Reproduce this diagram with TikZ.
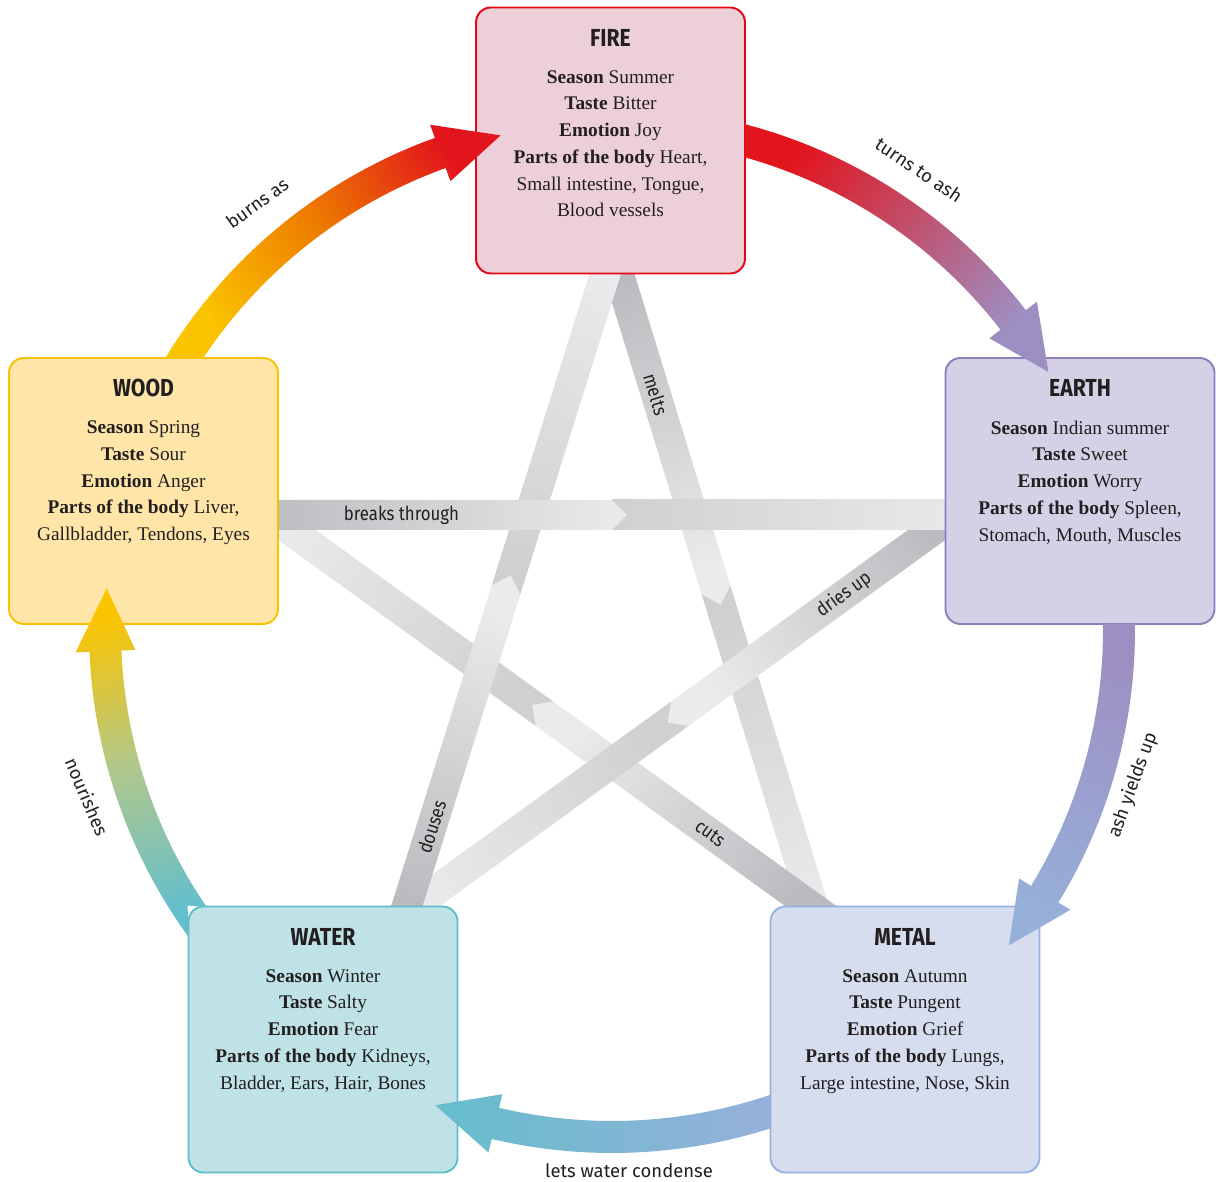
\documentclass[tikz,border=0pt]{standalone}
\usepackage{fontspec}
\setmainfont{Liberation Serif}
\newfontfamily\headfont[FakeStretch=0.86]{Fira Sans}
\newfontfamily\labfont{Fira Sans}
\newfontfamily\condfont[FakeStretch=0.87]{Fira Sans}
\usepackage{xcolor}
\usepackage{tikz}
\usetikzlibrary{positioning,calc,backgrounds}

\definecolor{ink}{RGB}{35,31,32}
\definecolor{firefill}{RGB}{236,207,217}
\definecolor{fireline}{RGB}{227,6,19}
\definecolor{woodfill}{RGB}{255,230,168}
\definecolor{woodline}{RGB}{251,192,0}
\definecolor{earthfill}{RGB}{212,208,230}
\definecolor{earthline}{RGB}{139,127,189}
\definecolor{waterfill}{RGB}{190,226,230}
\definecolor{waterline}{RGB}{94,190,202}
\definecolor{metalfill}{RGB}{213,221,239}
\definecolor{metalline}{RGB}{150,178,222}
\definecolor{woodarr}{RGB}{251,196,0}
\definecolor{orangearr}{RGB}{237,122,0}
\definecolor{firearr}{RGB}{226,20,28}
\definecolor{eartharr}{RGB}{158,143,194}
\definecolor{metalarr}{RGB}{150,176,218}
\definecolor{waterarr}{RGB}{101,190,204}
\definecolor{greenarr}{RGB}{176,200,140}
\definecolor{banddark}{RGB}{186,187,190}
\definecolor{bandlight}{RGB}{234,235,236}
\definecolor{bandmid}{RGB}{207,208,210}
\definecolor{bandend}{RGB}{233,234,235}

% grey band from #1 to #2, chevron half way, #3 = shading angle
\newcommand{\gband}[3]{%
  \coordinate (s) at ($(#1)!-0.04!(#2)$);
  \coordinate (e) at ($(#1)!1.04!(#2)$);
  \coordinate (f) at ($(#1)!2!(#2)$);
  \coordinate (b) at ($(#1)!0.5!(#2)$);
  \coordinate (t) at ($(#1)!0.523!(#2)$);
  \shade[bottom color=bandmid, top color=bandend, shading angle=#3]
    ($(b)!3mm!90:(f)$) -- ($(e)!3mm!90:(f)$) -- ($(e)!3mm!-90:(f)$) -- ($(b)!3mm!-90:(f)$) -- cycle;
  \shade[bottom color=banddark, top color=bandlight, shading angle=#3]
    ($(s)!3mm!90:(f)$) -- ($(b)!3mm!90:(f)$) -- (t) -- ($(b)!3mm!-90:(f)$) -- ($(s)!3mm!-90:(f)$) -- cycle;
}

\begin{document}
\begin{tikzpicture}[
  x=0.2mm, y=0.2mm,
  elem/.style={draw, rounded corners=3mm, line width=1.1pt, minimum width=53.8mm, minimum height=53.2mm, inner sep=0pt},
  elemtitle/.style={font=\headfont\bfseries\fontsize{14}{16}\selectfont, text=ink, anchor=base, inner sep=0pt},
  elembody/.style={font=\fontsize{11}{15.2}\selectfont, text=ink, align=center, anchor=north, inner sep=0pt},
  arclab/.style={font=\labfont\fontsize{10.5}{12}\selectfont, text=ink},
  bandlab/.style={font=\condfont\fontsize{11}{13}\selectfont, text=ink}]
\useasboundingbox (0,0) rectangle (1216,1181);

% the five elements
\node[elem, fill=firefill, draw=fireline] (fire) at (610.5,1040.5) {};
\node[elem, fill=woodfill, draw=woodline] (wood) at (143.5,690) {};
\node[elem, fill=earthfill, draw=earthline] (earth) at (1080,690) {};
\node[elem, fill=waterfill, draw=waterline] (water) at (323,141.5) {};
\node[elem, fill=metalfill, draw=metalline] (metal) at (905,141.5) {};

% ends of the star bands
\coordinate (wdA) at ([yshift=-4.8mm]wood.east);
\coordinate (wdB) at ([yshift=-6.2mm]wood.east);
\coordinate (eaA) at ([yshift=-4.8mm]earth.west);
\coordinate (eaB) at ([yshift=-6.2mm]earth.west);
\coordinate (frA) at ([xshift=-1.1mm]fire.south);
\coordinate (frB) at ([xshift=1.7mm]fire.south);
\coordinate (mtA) at ([xshift=-18.4mm]metal.north);
\coordinate (mtB) at ([xshift=-19mm]metal.north);
\coordinate (wtA) at ([xshift=16.8mm]water.north);
\coordinate (wtB) at ([xshift=18.4mm]water.north);

\begin{pgfonlayer}{background}
\gband{frB}{mtA}{-163}
\gband{mtB}{wdB}{54.1}
\gband{eaB}{wtB}{125.9}
\gband{wtA}{frA}{-17.3}
\gband{wdA}{eaA}{-90}
\end{pgfonlayer}

\path (wdA) -- (eaA) node[bandlab, pos=0.184, sloped] (lbreak) {breaks through};
\path (frB) -- (mtA) node[bandlab, pos=0.19, sloped] (lmelt) {melts};
\path (wtA) -- (frA) node[bandlab, pos=0.125, sloped] (ldouse) {douses};
\path (mtB) -- (wdB) node[bandlab, pos=0.188, sloped] (lcut) {cuts};
\path (eaB) -- (wtB) node[bandlab, pos=0.19, sloped] (ldry) {dries up};

% the ring of arrows
\coordinate (hub) at (612,551);
\shade[bottom color=woodarr, top color=firearr, middle color=orangearr, shading angle=-55]
  ($(hub)+(148.66:523)$) arc[start angle=148.66, end angle=109.8, radius=523]
  -- ($(hub)+(109.8:537)$) -- ($(hub)+(102.7:507)$) -- ($(hub)+(109.8:477)$)
  -- ($(hub)+(109.8:491)$) arc[start angle=109.8, end angle=146.36, radius=491] -- cycle;
\shade[bottom color=firearr, top color=eartharr, shading angle=-127.8]
  ($(hub)+(75.27:523)$) arc[start angle=75.27, end angle=37.7, radius=523]
  -- ($(hub)+(37.7:537)$) -- ($(hub)+(30.6:507)$) -- ($(hub)+(37.7:477)$)
  -- ($(hub)+(37.7:491)$) arc[start angle=37.7, end angle=74.28, radius=491] -- cycle;
\shade[bottom color=eartharr, top color=metalarr, shading angle=161.2]
  ($(hub)+(0.66:523)$) arc[start angle=0.66, end angle=-31.4, radius=523]
  -- ($(hub)+(-31.4:537)$) -- ($(hub)+(-38.5:507)$) -- ($(hub)+(-31.4:477)$)
  -- ($(hub)+(-31.4:491)$) arc[start angle=-31.4, end angle=0.7, radius=491] -- cycle;
\shade[bottom color=metalarr, top color=waterarr, shading angle=90]
  ($(hub)+(-72.42:523)$) arc[start angle=-72.42, end angle=-103.3, radius=523]
  -- ($(hub)+(-103.3:537)$) -- ($(hub)+(-110.4:507)$) -- ($(hub)+(-103.3:477)$)
  -- ($(hub)+(-103.3:491)$) arc[start angle=-103.3, end angle=-71.23, radius=491] -- cycle;
\shade[bottom color=waterarr, top color=woodarr, middle color=greenarr, shading angle=15.4]
  ($(hub)+(216:523)$) arc[start angle=216, end angle=182.4, radius=523]
  -- ($(hub)+(182.4:537)$) -- ($(hub)+(175.3:507)$) -- ($(hub)+(182.4:477)$)
  -- ($(hub)+(182.4:491)$) arc[start angle=182.4, end angle=214.35, radius=491]
  -- (water.north west) -- cycle;

\node[arclab, rotate=36] (lburn) at (257,978) {burns as};
\node[arclab, rotate=-34] (lash) at (919,1011) {turns to ash};
\node[arclab, rotate=70] (lyield) at (1133,396) {ash yields up};
\node[arclab] (lcond) at (629,10) {lets water condense};
\node[arclab, rotate=-67] (lnour) at (87,384) {nourishes};

% texts in the boxes
\node[elemtitle] (firet) at ([yshift=-7.9mm]fire.north) {FIRE};
\node[elembody] (fireb) at ([yshift=-12.7mm]fire.north) {\textbf{Season} Summer\\ \textbf{Taste} Bitter\\ \textbf{Emotion} Joy\\ \textbf{Parts of the body} Heart,\\ Small intestine, Tongue,\\ Blood vessels};
\node[elemtitle] (woodt) at ([yshift=-7.9mm]wood.north) {WOOD};
\node[elembody] (woodb) at ([yshift=-12.7mm]wood.north) {\textbf{Season} Spring\\ \textbf{Taste} Sour\\ \textbf{Emotion} Anger\\ \textbf{Parts of the body} Liver,\\ Gallbladder, Tendons, Eyes};
\node[elemtitle] (eartht) at ([yshift=-7.9mm]earth.north) {EARTH};
\node[elembody] (earthb) at ([yshift=-12.7mm]earth.north) {\textbf{Season} Indian summer\\ \textbf{Taste} Sweet\\ \textbf{Emotion} Worry\\ \textbf{Parts of the body} Spleen,\\ Stomach, Mouth, Muscles};
\node[elemtitle] (watert) at ([yshift=-7.9mm]water.north) {WATER};
\node[elembody] (waterb) at ([yshift=-12.7mm]water.north) {\textbf{Season} Winter\\ \textbf{Taste} Salty\\ \textbf{Emotion} Fear\\ \textbf{Parts of the body} Kidneys,\\ Bladder, Ears, Hair, Bones};
\node[elemtitle] (metalt) at ([yshift=-7.9mm]metal.north) {METAL};
\node[elembody] (metalb) at ([yshift=-12.7mm]metal.north) {\textbf{Season} Autumn\\ \textbf{Taste} Pungent\\ \textbf{Emotion} Grief\\ \textbf{Parts of the body} Lungs,\\ Large intestine, Nose, Skin};
\end{tikzpicture}
\end{document}
